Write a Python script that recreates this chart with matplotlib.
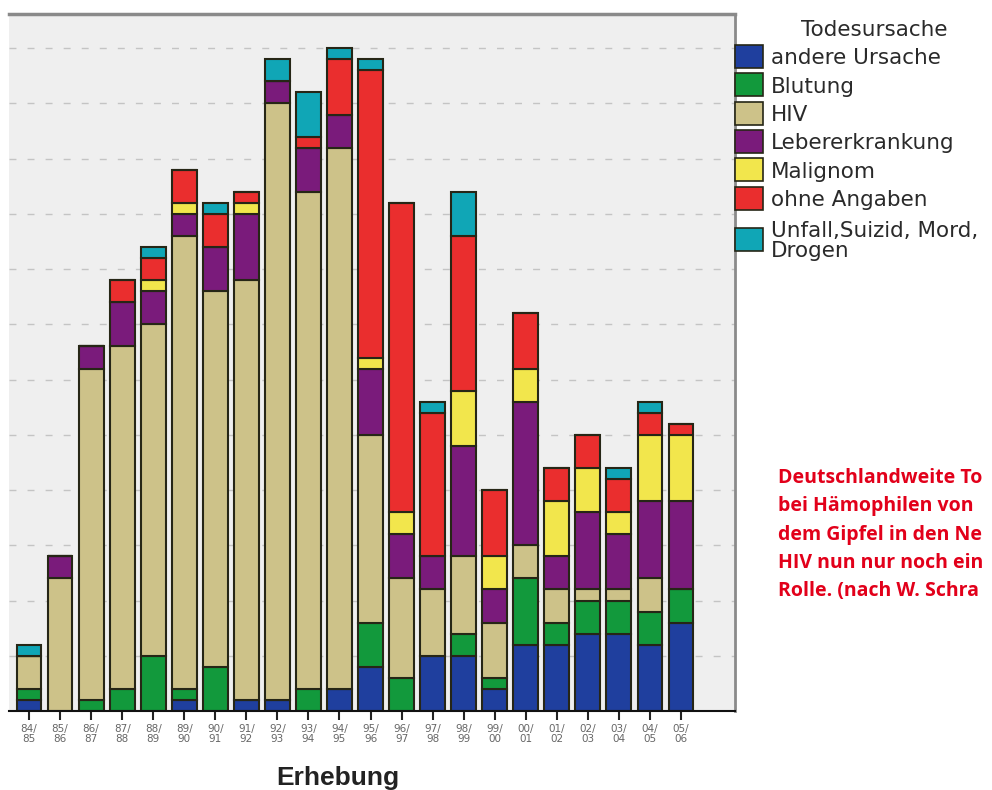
import numpy as np
import matplotlib.pyplot as plt
from matplotlib.patches import Rectangle

# Erhebungsjahre (x-Achse)
jahre = ['84/\n85', '85/\n86', '86/\n87', '87/\n88', '88/\n89', '89/\n90', '90/\n91',
         '91/\n92', '92/\n93', '93/\n94', '94/\n95', '95/\n96', '96/\n97', '97/\n98',
         '98/\n99', '99/\n00', '00/\n01', '01/\n02', '02/\n03', '03/\n04', '04/\n05',
         '05/\n06']

# Todesfaelle je Ursache (von unten nach oben gestapelt)
andere_ursache = [1, 0, 0, 0, 0, 1, 0, 1, 1, 0, 2, 4, 0, 5, 5, 2, 6, 6, 7, 7, 6, 8]
blutung = [1, 0, 1, 2, 5, 1, 4, 0, 0, 2, 0, 4, 3, 0, 2, 1, 6, 2, 3, 3, 3, 3]
hiv = [3, 12, 30, 31, 30, 41, 34, 38, 54, 45, 49, 17, 9, 6, 7, 5, 3, 3, 1, 1, 3, 0]
lebererkrankung = [0, 2, 2, 4, 3, 2, 4, 6, 2, 4, 3, 6, 4, 3, 10, 3, 13, 3, 7, 5, 7, 8]
malignom = [0, 0, 0, 0, 1, 1, 0, 1, 0, 0, 0, 1, 2, 0, 5, 3, 3, 5, 4, 2, 6, 6]
ohne_angaben = [0, 0, 0, 2, 2, 3, 3, 1, 0, 1, 5, 26, 28, 13, 14, 6, 5, 3, 3, 3, 2, 1]
unfall = [1, 0, 0, 0, 1, 0, 1, 0, 2, 4, 1, 1, 0, 1, 4, 0, 0, 0, 0, 1, 1, 0]

labels = ['andere Ursache', 'Blutung', 'HIV', 'Lebererkrankung', 'Malignom',
          'ohne Angaben', 'Unfall,Suizid, Mord,\nDrogen']
farben = ['#1f3f9e', '#12993c', '#cdc289', '#7a1b7b', '#f2e64c', '#ea2e2e', '#10a6b6']

serien = [andere_ursache, blutung, hiv, lebererkrankung, malignom, ohne_angaben, unfall]

fig = plt.figure(figsize=(9.92, 7.90), dpi=100)
ax = fig.add_axes([9 / 992, 79 / 790, (735 - 9) / 992, (711 - 14) / 790])
ax.set_facecolor('#efefef')

x = np.arange(len(jahre))
unten = np.zeros(len(jahre))
for werte, farbe, name in zip(serien, farben, labels):
    ax.bar(x, werte, width=0.8, bottom=unten, color=farbe, edgecolor='#262616',
           linewidth=1.5, label=name)
    unten += np.array(werte)

ax.set_xlim(-0.644, 22.74)
ax.set_ylim(0, 63.1)
ax.set_yticks(np.arange(5, 65, 5))
ax.set_yticklabels([])
ax.tick_params(axis='y', length=0)
ax.yaxis.grid(True, color='#c4c4c4', linestyle=(0, (5, 8)), linewidth=1)
ax.set_axisbelow(True)

ax.set_xticks(x)
ax.set_xticklabels(jahre, fontsize=7.5, color='#666666', linespacing=0.95)
ax.tick_params(axis='x', length=6.5, width=1.5, color='#222222', pad=3)

ax.spines['left'].set_visible(False)
ax.spines['top'].set_color('#8a8a8a')
ax.spines['top'].set_linewidth(2.5)
ax.spines['right'].set_color('#8a8a8a')
ax.spines['right'].set_linewidth(2)
ax.spines['bottom'].set_color('#111111')
ax.spines['bottom'].set_linewidth(1.5)

fig.text(338 / 992, 1 - 778 / 790, 'Erhebung', fontsize=19, fontweight='bold',
         family='Liberation Sans', color='#222222', ha='center', va='center')

# Legende
fig.text(874 / 992, 1 - 30 / 790, 'Todesursache', fontsize=15.5, color='#2a2a2a',
         ha='center', va='center')
kasten_oben = [45, 73, 102, 130, 158, 187, 228]
text_mitte = [58, 87, 115, 143, 172, 200, 241]
for oben, mitte, farbe, name in zip(kasten_oben, text_mitte, farben, labels):
    fig.patches.append(Rectangle((735 / 992, 1 - (oben + 23) / 790), 28 / 992, 23 / 790,
                                 transform=fig.transFigure, facecolor=farbe,
                                 edgecolor='#262616', linewidth=1.2))
    fig.text(771 / 992, 1 - mitte / 790, name, fontsize=15.5, color='#2a2a2a',
             ha='left', va='center', linespacing=1.0)

# Bildunterschrift (im Original rechts abgeschnitten)
zeilen = ['Deutschlandweite To', 'bei Hämophilen von', 'dem Gipfel in den Ne',
          'HIV nun nur noch ein', 'Rolle. (nach W. Schra']
for i, zeile in enumerate(zeilen):
    fig.text(778 / 992, 1 - (483 + 28.3 * i) / 790, zeile, fontsize=14,
             fontweight='bold', family='Open Sans', color='#e2001a',
             ha='left', va='baseline')

fig.savefig('out.png', dpi=100)
